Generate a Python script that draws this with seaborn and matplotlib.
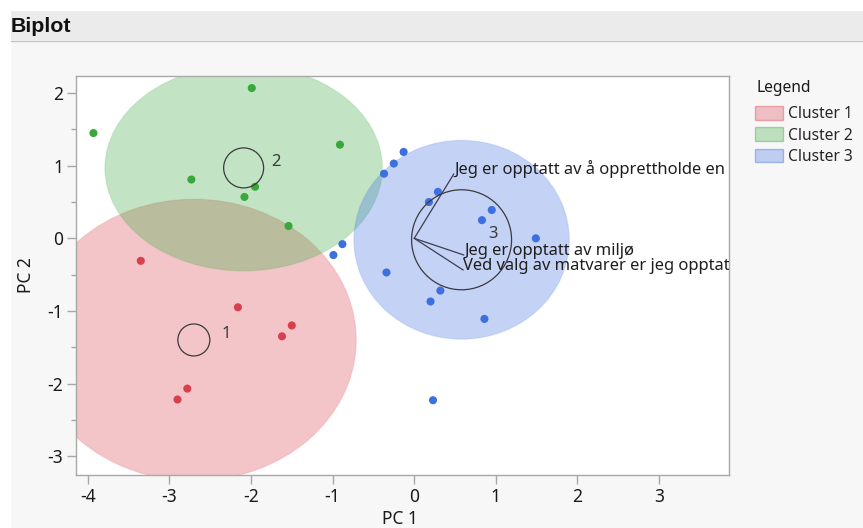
import matplotlib
matplotlib.use("Agg")
import matplotlib.pyplot as plt
from matplotlib.patches import Ellipse, Patch, Rectangle
from matplotlib.lines import Line2D
from matplotlib.colors import to_rgba
import pandas as pd
import seaborn as sns

# ---- data -------------------------------------------------------------
pc1 = [-3.93, -1.99, -0.91, -2.73, -1.95, -2.08, -1.54,
       -3.35, -2.16, -1.50, -1.62, -2.78, -2.90,
       -0.13, -0.25, -0.37, 0.29, 0.18, 0.95, 0.83, 1.49,
       -0.88, -0.99, -0.34, 0.32, 0.20, 0.86, 0.23]
pc2 = [1.45, 2.07, 1.29, 0.81, 0.71, 0.57, 0.17,
       -0.31, -0.95, -1.20, -1.35, -2.07, -2.22,
       1.19, 1.03, 0.89, 0.64, 0.50, 0.39, 0.25, 0.00,
       -0.08, -0.23, -0.47, -0.72, -0.87, -1.11, -2.23]
cluster = ["Cluster 2"] * 7 + ["Cluster 1"] * 6 + ["Cluster 3"] * 15

cluster_names = ["Cluster 1", "Cluster 2", "Cluster 3"]
cluster_ids = ["1", "2", "3"]
center_x = [-2.70, -2.09, 0.58]
center_y = [-1.40, 0.97, -0.02]
region_rx = [1.99, 1.70, 1.32]
region_ry = [1.94, 1.42, 1.37]

loading_labels = ["Jeg er opptatt av å opprettholde en",
                  "Jeg er opptatt av miljø",
                  "Ved valg av matvarer er jeg opptatt"]
loading_x = [0.485, 0.608, 0.600]
loading_y = [0.887, -0.230, -0.437]

x_ticks = [-4, -3, -2, -1, 0, 1, 2, 3]
y_ticks = [-3, -2, -1, 0, 1, 2]
y_minor_ticks = [-2.5, -1.5, -0.5, 0.5, 1.5]

# ---- styling ----------------------------------------------------------
colors = {"Cluster 1": "#d9404e", "Cluster 2": "#38a83c", "Cluster 3": "#3c6fe0"}
ring_diam_px = [32, 40, 100]

sns.set_style("white")
plt.rcParams["font.family"] = ["Noto Sans", "DejaVu Sans"]
plt.rcParams["axes.unicode_minus"] = False

W, H = 863, 528
fig = plt.figure(figsize=(W / 100, H / 100), dpi=100)
fig.patch.set_facecolor("white")

# report panel and header band
fig.patches.append(Rectangle((11 / W, 0), 1, 1 - 11 / H, transform=fig.transFigure,
                             facecolor="#f7f7f7", edgecolor="none", zorder=-10))
fig.patches.append(Rectangle((11 / W, 1 - 40 / H), 1, 29 / H, transform=fig.transFigure,
                             facecolor="#ebebeb", edgecolor="none", zorder=-9))
fig.lines.append(Line2D([11 / W, 1], [1 - 40.5 / H, 1 - 40.5 / H], transform=fig.transFigure,
                        color="#c4c4c4", lw=1, zorder=-8))
fig.text(11 / W, 1 - 32 / H, "Biplot", fontsize=15.4, fontweight="bold",
         family=["Liberation Sans", "DejaVu Sans"],
         va="baseline", ha="left", color="#111111")

left, right, top, bottom = 76.3, 729.3, 75.7, 475.0
ax = fig.add_axes([left / W, 1 - bottom / H, (right - left) / W, (bottom - top) / H])
ax.set_facecolor("white")

# shaded cluster regions
for i, name in enumerate(cluster_names):
    rgb = to_rgba(colors[name])[:3]
    ax.add_patch(Ellipse((center_x[i], center_y[i]), 2 * region_rx[i], 2 * region_ry[i],
                         facecolor=(*rgb, 0.30), edgecolor=(*rgb, 0.12), lw=1.0, zorder=1))

df = pd.DataFrame({"PC 1": pc1, "PC 2": pc2, "Cluster": cluster})
sns.scatterplot(data=df, x="PC 1", y="PC 2", hue="Cluster", palette=colors,
                s=34, linewidth=0, legend=False, ax=ax, zorder=3)

# cluster centre rings and numbers
for i in range(3):
    d_pt = ring_diam_px[i] * 0.72
    ax.scatter([center_x[i]], [center_y[i]], s=d_pt ** 2, facecolors="none",
               edgecolors="#3a3a3a", linewidths=0.9, zorder=4)
    ax.annotate(cluster_ids[i], (center_x[i], center_y[i]), xytext=(23, 4.3),
                textcoords="offset points", ha="center", va="center",
                fontsize=12, color="#3a3a3a", zorder=5)

# loading rays
for lx, ly, lab in zip(loading_x, loading_y, loading_labels):
    ax.plot([0, lx], [0, ly], color="#3d3d52", lw=0.9, zorder=5)
    ax.text(lx, ly, lab, ha="left", va="baseline", fontsize=11.9,
            color="#1e1e1e", clip_on=True, zorder=6)

ax.set_xlim(-4.14, 3.86)
ax.set_ylim(-3.26, 2.24)
ax.set_xticks(x_ticks)
ax.set_yticks(y_ticks)
ax.set_yticks(y_minor_ticks, minor=True)
ax.tick_params(axis="both", which="major", length=6.5, width=1, color="#a6a6a6",
               labelsize=12.5, labelcolor="#1a1a1a")
ax.tick_params(axis="x", which="major", pad=2.5, bottom=True)
ax.tick_params(axis="y", which="major", pad=3.0, left=True)
ax.tick_params(axis="y", which="minor", length=3.6, width=1, color="#a6a6a6", left=True)
for s in ax.spines.values():
    s.set_color("#a8a8a8")
    s.set_linewidth(1.0)

ax.set_xlabel("PC 1", fontsize=12.5, color="#1a1a1a")
ax.set_ylabel("PC 2", fontsize=12.5, color="#1a1a1a")
ax.xaxis.label.set_va("center")
ax.yaxis.label.set_va("center")
ax.xaxis.set_label_coords((400 - left) / (right - left), -(519 - bottom) / (bottom - top))
ax.yaxis.set_label_coords((26 - left) / (right - left), 0.5)

# legend
fig.text(756 / W, 1 - 92.5 / H, "Legend", fontsize=11.2, color="#1a1a1a",
         ha="left", va="baseline")
handles = [Patch(facecolor=(*to_rgba(colors[n])[:3], 0.30),
                 edgecolor=(*to_rgba(colors[n])[:3], 0.40), lw=1, label=n)
           for n in cluster_names]
fig.legend(handles=handles, loc="upper left",
           bbox_to_anchor=(755 / W, 1 - 106 / H), frameon=False,
           fontsize=11.2, handlelength=1.8, handleheight=1.0,
           handletextpad=0.35, labelspacing=0.32, borderpad=0, borderaxespad=0)

fig.savefig("out.png", dpi=100, facecolor=fig.get_facecolor())
